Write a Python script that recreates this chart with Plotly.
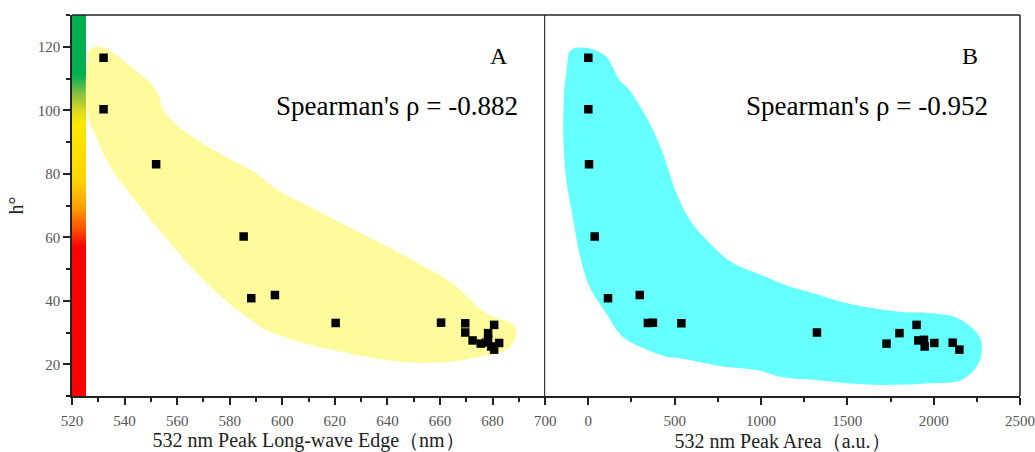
import numpy as np
import plotly.graph_objects as go

# ---- data ----
hue = [116.5, 100.3, 83.0, 60.2, 40.8, 41.8, 33.0, 33.1, 32.9, 32.4,
       30.0, 29.8, 27.5, 27.7, 26.5, 26.7, 26.8, 25.6, 24.6]
edge_nm = [532.0, 532.0, 552.0, 585.3, 588.2, 597.2, 620.3, 660.4, 669.6, 680.6,
           669.6, 678.3, 672.4, 678.3, 675.5, 682.5, 677.5, 679.5, 680.6]
peak_area = [0, 0, 4, 37, 114, 298, 345, 374, 539, 1901,
             1324, 1802, 1911, 1944, 1727, 2004, 2110, 1948, 2149]

# hand-drawn envelope outlines (data coordinates)
blobA_x = [526.2, 529.6, 535.7, 543.4, 550.6, 552.9, 554.4, 559.4, 568.9, 579.2,
           589.1, 598.2, 607.0, 613.5, 626.0, 638.6, 651.5, 664.1, 676.7, 683.2,
           687.0, 688.9, 688.5, 685.1, 676.7, 664.1, 651.5, 638.6, 632.5, 613.5,
           600.5, 593.6, 589.1, 581.4, 568.9, 556.3, 546.0, 534.6, 528.9, 525.8, 525.4]
blobA_y = [118.3, 120.2, 118.0, 113.0, 107.9, 104.8, 100.7, 95.7, 90.0, 85.0,
           80.6, 74.9, 71.1, 68.3, 62.9, 57.6, 51.9, 45.9, 36.5, 34.0,
           33.0, 30.8, 27.7, 24.5, 22.6, 20.8, 20.4, 21.4, 22.3, 25.5,
           28.7, 30.8, 33.3, 38.1, 47.5, 59.2, 69.6, 82.2, 92.2, 99.1, 112.7]
blobB_x = [-115, -91, 6, 103, 180, 238, 355, 432, 510, 587, 723, 839, 975, 1166,
           1304, 1498, 1789, 1983, 2118, 2215, 2273, 2273, 2235, 2157, 1983, 1692,
           1498, 1304, 1110, 975, 781, 529, 452, 297, 199, 103, 6, -52, -91, -130,
           -145, -140]
blobB_y = [117.9, 119.3, 119.5, 116.9, 109.5, 106.4, 95.9, 86.4, 73.9, 65.5, 57.0,
           51.8, 48.7, 44.5, 42.4, 39.2, 36.6, 36.1, 35.0, 31.9, 27.7, 22.4, 18.2,
           15.0, 14.0, 13.5, 14.0, 15.1, 16.1, 18.2, 19.3, 21.9, 22.4, 25.6, 28.7,
           36.1, 44.5, 55.0, 66.5, 79.1, 92.7, 106.4]

# hue colour strip
bar_levels = [10, 57, 62, 69, 78, 96, 100, 105, 111, 130]
bar_colors = ['#FF0000', '#FF0000', '#FF4A00', '#FF9A00', '#FFD500', '#FFE800',
              '#D6D81E', '#8CC040', '#00B050', '#00B050']

xticksA = [520, 540, 560, 580, 600, 620, 640, 660, 680, 700]
xticksB = [0, 500, 1000, 1500, 2000, 2500]
yticks = [20, 40, 60, 80, 100, 120]

FONT = "Liberation Serif"
W, H = 1035, 452
ml, mr, mt, mb = 71.7, 15, 15, 56
split = (545 - ml) / (W - ml - mr)

fig = go.Figure()

# colour strip
ys = np.arange(10.25, 130, 0.5)
lo, hi = bar_levels[0], bar_levels[-1]
cscale = [[(l - lo) / (hi - lo), c] for l, c in zip(bar_levels, bar_colors)]
fig.add_trace(go.Heatmap(z=[[v] for v in ys], y=ys, x0=522.6, dx=5.2,
                         colorscale=cscale, zmin=lo, zmax=hi, showscale=False,
                         hoverinfo='skip', xaxis='x', yaxis='y'))

fig.add_trace(go.Scatter(x=blobA_x, y=blobA_y, mode='lines', fill='toself',
                         line=dict(color='rgba(0,0,0,0)', shape='spline', width=0),
                         fillcolor='#FFFA9C', hoverinfo='skip', showlegend=False,
                         xaxis='x', yaxis='y'))
fig.add_trace(go.Scatter(x=blobB_x, y=blobB_y, mode='lines', fill='toself',
                         line=dict(color='rgba(0,0,0,0)', shape='spline', width=0),
                         fillcolor='#66FFFF', hoverinfo='skip', showlegend=False,
                         xaxis='x2', yaxis='y'))

mk = dict(symbol='square', size=8.5, color='black', line=dict(width=0))
fig.add_trace(go.Scatter(x=edge_nm, y=hue, mode='markers', marker=mk,
                         showlegend=False, xaxis='x', yaxis='y'))
fig.add_trace(go.Scatter(x=peak_area, y=hue, mode='markers', marker=mk,
                         showlegend=False, xaxis='x2', yaxis='y'))

tickfont = dict(family=FONT, size=15, color='#555555')
titlefont = dict(family=FONT, size=20, color='#222222')
axcommon = dict(showline=True, linecolor='#222222', linewidth=1.5, ticks='outside',
                ticklen=7, tickwidth=1.5, tickcolor='#222222', showgrid=False,
                zeroline=False, tickfont=tickfont, title_font=titlefont,
                automargin=False,
                minor=dict(ticks='outside', ticklen=4, tickwidth=1.5, tickcolor='#222222'))

fig.update_layout(
    width=W, height=H, margin=dict(l=ml, r=mr, t=mt, b=mb),
    paper_bgcolor='white', plot_bgcolor='white', showlegend=False,
    xaxis=dict(domain=[0, split], range=[520, 700], tickvals=xticksA,
               minor_dtick=10, minor_tick0=520, ticklabelstandoff=3,
               title=dict(text='532 nm Peak Long-wave Edge（nm）', standoff=6),
               anchor='y', **axcommon),
    xaxis2=dict(domain=[split, 1], range=[-250, 2500], tickvals=xticksB,
                minor_dtick=250, minor_tick0=0, ticklabelstandoff=3,
                title=dict(text='532 nm Peak Area（a.u.）', standoff=6),
                anchor='y', **axcommon),
    yaxis=dict(range=[10, 130], tickvals=yticks, minor_dtick=10, minor_tick0=10,
               title=dict(text='h°', standoff=9), **axcommon),
)

# frame: top, right, and middle divider
fig.add_shape(type='line', xref='paper', yref='paper', x0=0, x1=1, y0=1, y1=1,
              line=dict(color='#222222', width=1.5))
fig.add_shape(type='line', xref='paper', yref='paper', x0=1, x1=1, y0=0, y1=1,
              line=dict(color='#222222', width=1.5))
fig.add_shape(type='line', xref='x', yref='paper', x0=700, x1=700, y0=0, y1=1,
              line=dict(color='#111111', width=2))

annfont = dict(family=FONT, size=27, color='black')
fig.add_annotation(text='A', x=682.4, y=117.2, xref='x', yref='y',
                   showarrow=False, font=dict(family=FONT, size=24, color='black'),
                   xanchor='center', yanchor='middle')
fig.add_annotation(text="Spearman's ρ = -0.882", x=643.7, y=101.3, xref='x', yref='y',
                   showarrow=False, font=annfont, xanchor='center', yanchor='middle')
fig.add_annotation(text='B', x=2209, y=117.2, xref='x2', yref='y',
                   showarrow=False, font=dict(family=FONT, size=24, color='black'),
                   xanchor='center', yanchor='middle')
fig.add_annotation(text="Spearman's ρ = -0.952", x=1616, y=101.3, xref='x2', yref='y',
                   showarrow=False, font=annfont, xanchor='center', yanchor='middle')

fig.write_html("out.html")
